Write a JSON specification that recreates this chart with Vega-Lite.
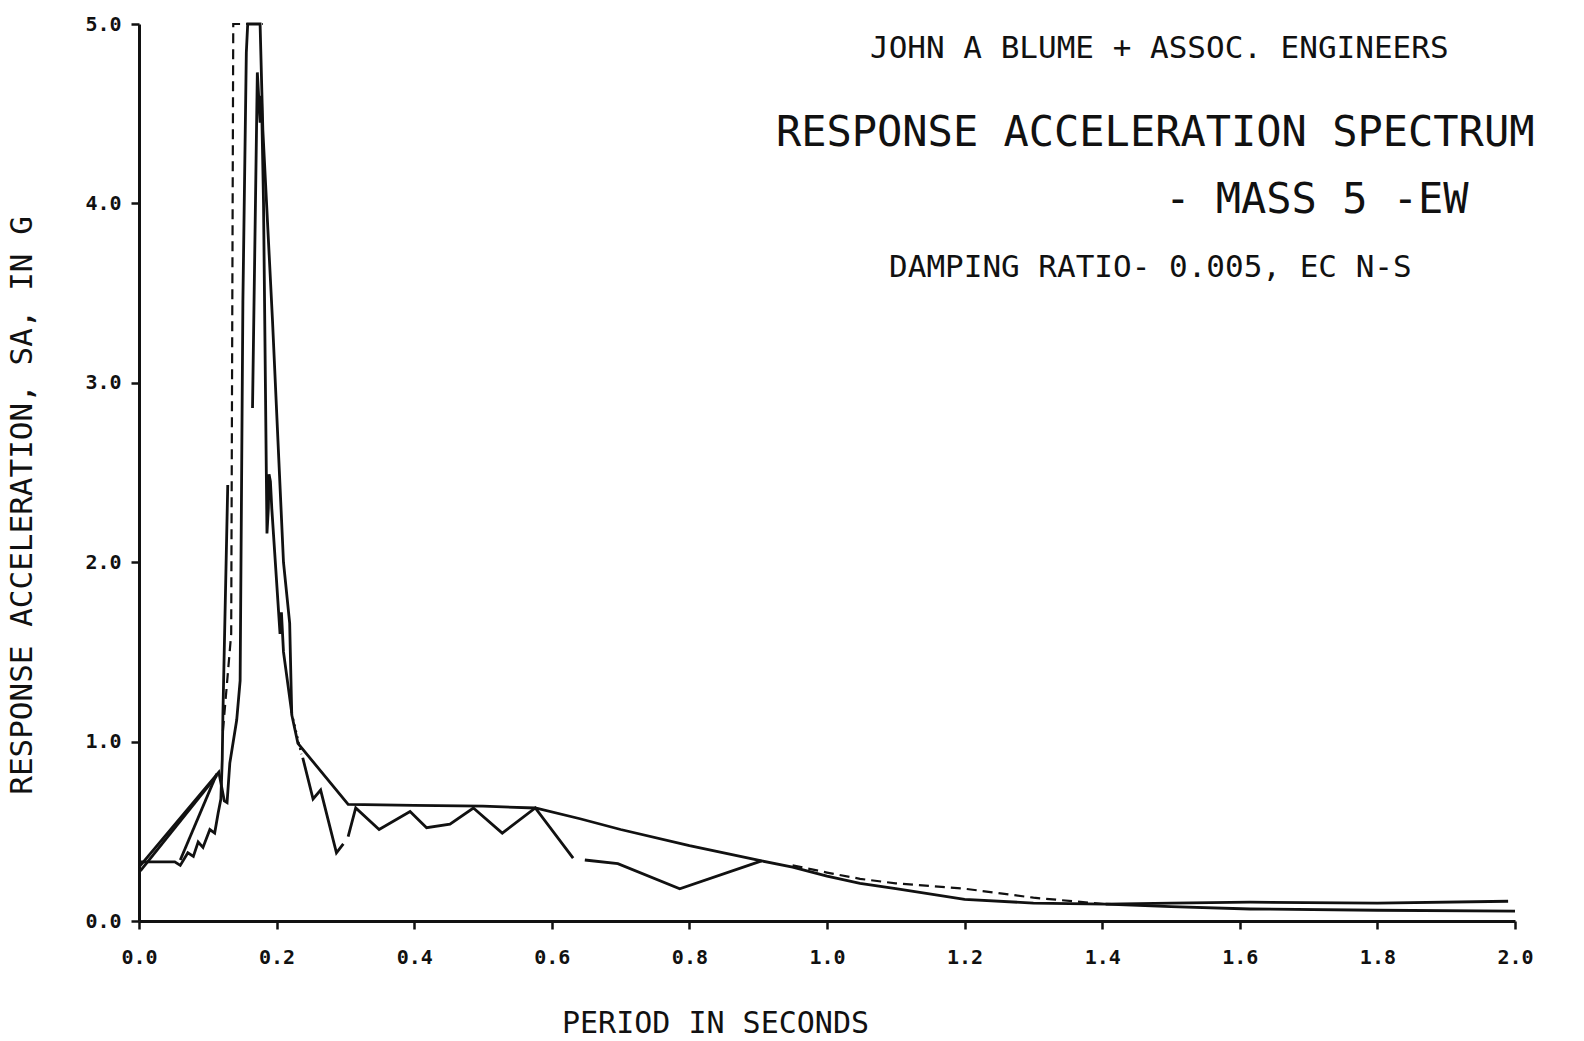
{
  "$schema": "https://vega.github.io/schema/vega-lite/v6.json",
  "width": 1376,
  "height": 897,
  "autosize": {"type": "none"},
  "padding": {"left": 139, "top": 24, "right": 69, "bottom": 120},
  "background": "white",
  "config": {
    "view": {"stroke": null},
    "axis": {
      "grid": false,
      "domainColor": "#111",
      "domainWidth": 3,
      "tickColor": "#111",
      "tickWidth": 2.5,
      "tickSize": 8,
      "labelFont": "DejaVu Sans Mono",
      "labelFontWeight": "bold",
      "labelFontSize": 20,
      "labelColor": "#111",
      "titleFont": "DejaVu Sans Mono",
      "titleFontWeight": "normal",
      "titleColor": "#111"
    }
  },
  "datasets": {
    "curves": [
      {"trace": "env", "period": 0.000, "sa": 0.30},
      {"trace": "env", "period": 0.116, "sa": 0.83},
      {"trace": "env", "period": 0.124, "sa": 0.67},
      {"trace": "env", "period": 0.128, "sa": 0.66},
      {"trace": "env", "period": 0.132, "sa": 0.88},
      {"trace": "env", "period": 0.142, "sa": 1.12},
      {"trace": "env", "period": 0.147, "sa": 1.34},
      {"trace": "env", "period": 0.151, "sa": 3.45},
      {"trace": "env", "period": 0.156, "sa": 4.84},
      {"trace": "env", "period": 0.158, "sa": 5.0},
      {"trace": "env", "period": 0.176, "sa": 5.0},
      {"trace": "env", "period": 0.180, "sa": 4.41},
      {"trace": "env", "period": 0.194, "sa": 3.35},
      {"trace": "env", "period": 0.210, "sa": 2.0},
      {"trace": "env", "period": 0.219, "sa": 1.66},
      {"trace": "env", "period": 0.222, "sa": 1.15},
      {"trace": "env", "period": 0.231, "sa": 0.99},
      {"trace": "env", "period": 0.304, "sa": 0.65},
      {"trace": "env", "period": 0.400, "sa": 0.645},
      {"trace": "env", "period": 0.500, "sa": 0.64},
      {"trace": "env", "period": 0.576, "sa": 0.63},
      {"trace": "env", "period": 0.641, "sa": 0.57},
      {"trace": "env", "period": 0.700, "sa": 0.51},
      {"trace": "env", "period": 0.800, "sa": 0.42},
      {"trace": "env", "period": 0.905, "sa": 0.335},
      {"trace": "env", "period": 0.950, "sa": 0.30},
      {"trace": "env", "period": 1.000, "sa": 0.25},
      {"trace": "env", "period": 1.048, "sa": 0.21},
      {"trace": "env", "period": 1.100, "sa": 0.18},
      {"trace": "env", "period": 1.200, "sa": 0.12},
      {"trace": "env", "period": 1.300, "sa": 0.10},
      {"trace": "env", "period": 1.405, "sa": 0.094},
      {"trace": "env", "period": 1.500, "sa": 0.08},
      {"trace": "env", "period": 1.615, "sa": 0.067},
      {"trace": "env", "period": 1.800, "sa": 0.06},
      {"trace": "env", "period": 2.000, "sa": 0.055},

      {"trace": "tri", "period": 0.002, "sa": 0.28},
      {"trace": "tri", "period": 0.113, "sa": 0.81},

      {"trace": "hatch", "period": 0.060, "sa": 0.34},
      {"trace": "hatch", "period": 0.113, "sa": 0.82},

      {"trace": "b1", "period": 0.000, "sa": 0.33},
      {"trace": "b1", "period": 0.052, "sa": 0.33},
      {"trace": "b1", "period": 0.060, "sa": 0.31},
      {"trace": "b1", "period": 0.071, "sa": 0.38},
      {"trace": "b1", "period": 0.079, "sa": 0.36},
      {"trace": "b1", "period": 0.086, "sa": 0.44},
      {"trace": "b1", "period": 0.093, "sa": 0.41},
      {"trace": "b1", "period": 0.103, "sa": 0.51},
      {"trace": "b1", "period": 0.110, "sa": 0.49},
      {"trace": "b1", "period": 0.115, "sa": 0.60},
      {"trace": "b1", "period": 0.119, "sa": 0.68},
      {"trace": "b1", "period": 0.121, "sa": 0.90},
      {"trace": "b1", "period": 0.122, "sa": 1.16},
      {"trace": "b1", "period": 0.129, "sa": 2.43},

      {"trace": "p2", "period": 0.165, "sa": 2.86},
      {"trace": "p2", "period": 0.172, "sa": 4.73},
      {"trace": "p2", "period": 0.176, "sa": 4.45},
      {"trace": "p2", "period": 0.178, "sa": 4.6},
      {"trace": "p2", "period": 0.181, "sa": 4.0},
      {"trace": "p2", "period": 0.186, "sa": 2.16},
      {"trace": "p2", "period": 0.188, "sa": 2.3},
      {"trace": "p2", "period": 0.189, "sa": 2.49},
      {"trace": "p2", "period": 0.191, "sa": 2.45},
      {"trace": "p2", "period": 0.193, "sa": 2.3},
      {"trace": "p2", "period": 0.205, "sa": 1.6},
      {"trace": "p2", "period": 0.207, "sa": 1.72},
      {"trace": "p2", "period": 0.210, "sa": 1.5},
      {"trace": "p2", "period": 0.222, "sa": 1.16},

      {"trace": "b2", "period": 0.238, "sa": 0.91},
      {"trace": "b2", "period": 0.253, "sa": 0.68},
      {"trace": "b2", "period": 0.264, "sa": 0.73},
      {"trace": "b2", "period": 0.287, "sa": 0.38},
      {"trace": "b2", "period": 0.297, "sa": 0.43},
      {"trace": "b3", "period": 0.304, "sa": 0.47},
      {"trace": "b3", "period": 0.315, "sa": 0.63},
      {"trace": "b3", "period": 0.349, "sa": 0.51},
      {"trace": "b3", "period": 0.394, "sa": 0.61},
      {"trace": "b3", "period": 0.418, "sa": 0.52},
      {"trace": "b3", "period": 0.452, "sa": 0.54},
      {"trace": "b3", "period": 0.486, "sa": 0.63},
      {"trace": "b3", "period": 0.528, "sa": 0.49},
      {"trace": "b3", "period": 0.576, "sa": 0.63},
      {"trace": "b3", "period": 0.631, "sa": 0.35},
      {"trace": "b4", "period": 0.648, "sa": 0.34},
      {"trace": "b4", "period": 0.696, "sa": 0.32},
      {"trace": "b4", "period": 0.786, "sa": 0.18},
      {"trace": "b4", "period": 0.905, "sa": 0.335},

      {"trace": "tailB", "period": 1.405, "sa": 0.094},
      {"trace": "tailB", "period": 1.500, "sa": 0.10},
      {"trace": "tailB", "period": 1.615, "sa": 0.105},
      {"trace": "tailB", "period": 1.800, "sa": 0.10},
      {"trace": "tailB", "period": 1.990, "sa": 0.11},

      {"trace": "pdash", "period": 0.122, "sa": 1.06},
      {"trace": "pdash", "period": 0.134, "sa": 1.6},
      {"trace": "pdash", "period": 0.137, "sa": 5.0},
      {"trace": "pdash", "period": 0.180, "sa": 5.0},

      {"trace": "tailA", "period": 0.950, "sa": 0.31},
      {"trace": "tailA", "period": 1.000, "sa": 0.27},
      {"trace": "tailA", "period": 1.048, "sa": 0.235},
      {"trace": "tailA", "period": 1.100, "sa": 0.21},
      {"trace": "tailA", "period": 1.200, "sa": 0.18},
      {"trace": "tailA", "period": 1.300, "sa": 0.13},
      {"trace": "tailA", "period": 1.405, "sa": 0.094},

      {"trace": "conn", "period": 0.222, "sa": 1.16},
      {"trace": "conn", "period": 0.236, "sa": 0.93}
    ]
  },
  "layer": [
    {
      "data": {"name": "curves"},
      "transform": [{"filter": {"not": {"field": "trace", "oneOf": ["pdash", "tailA", "conn"]}}}],
      "mark": {"type": "line", "color": "#111", "strokeWidth": 2.8},
      "encoding": {
        "x": {
          "field": "period", "type": "quantitative",
          "scale": {"domain": [0, 2], "nice": false, "zero": false},
          "axis": {
            "values": [0, 0.2, 0.4, 0.6, 0.8, 1.0, 1.2, 1.4, 1.6, 1.8, 2.0],
            "format": ".1f",
            "labelFlush": false,
            "labelPadding": 18,
            "title": "PERIOD IN SECONDS",
            "titleFontSize": 30,
            "titleX": 576,
            "titleY": 102,
            "titleAlign": "center",
            "titleBaseline": "middle"
          }
        },
        "y": {
          "field": "sa", "type": "quantitative",
          "scale": {"domain": [0, 5], "nice": false},
          "axis": {
            "values": [0, 1, 2, 3, 4, 5],
            "format": ".1f",
            "labelFlush": false,
            "labelPadding": 10,
            "title": "RESPONSE ACCELERATION, SA, IN G",
            "titleFontSize": 31,
            "titleX": -117,
            "titleY": 481,
            "titleAngle": -90,
            "titleAlign": "center",
            "titleBaseline": "middle"
          }
        },
        "detail": {"field": "trace"}
      }
    },
    {
      "data": {"name": "curves"},
      "transform": [{"filter": {"field": "trace", "oneOf": ["pdash", "tailA"]}}],
      "mark": {"type": "line", "color": "#111", "strokeWidth": 2.2, "strokeDash": [10, 6]},
      "encoding": {
        "x": {"field": "period", "type": "quantitative"},
        "y": {"field": "sa", "type": "quantitative"},
        "detail": {"field": "trace"}
      }
    },
    {
      "data": {"name": "curves"},
      "transform": [{"filter": {"field": "trace", "equal": "conn"}}],
      "mark": {"type": "line", "color": "#111", "strokeWidth": 2.2, "strokeDash": [2, 4]},
      "encoding": {
        "x": {"field": "period", "type": "quantitative"},
        "y": {"field": "sa", "type": "quantitative"},
        "detail": {"field": "trace"}
      }
    },
    {
      "data": {"values": [{"label": "JOHN A BLUME + ASSOC. ENGINEERS"}]},
      "mark": {"type": "text", "font": "DejaVu Sans Mono", "fontSize": 31, "color": "#111", "align": "center", "baseline": "middle"},
      "encoding": {"x": {"datum": 1.483, "type": "quantitative"}, "y": {"datum": 4.86, "type": "quantitative"}, "text": {"field": "label"}}
    },
    {
      "data": {"values": [{"label": "RESPONSE ACCELERATION SPECTRUM"}]},
      "mark": {"type": "text", "font": "DejaVu Sans Mono", "fontSize": 42, "color": "#111", "align": "center", "baseline": "middle"},
      "encoding": {"x": {"datum": 1.477, "type": "quantitative"}, "y": {"datum": 4.39, "type": "quantitative"}, "text": {"field": "label"}}
    },
    {
      "data": {"values": [{"label": "- MASS 5 -EW"}]},
      "mark": {"type": "text", "font": "DejaVu Sans Mono", "fontSize": 42, "color": "#111", "align": "center", "baseline": "middle"},
      "encoding": {"x": {"datum": 1.712, "type": "quantitative"}, "y": {"datum": 4.02, "type": "quantitative"}, "text": {"field": "label"}}
    },
    {
      "data": {"values": [{"label": "DAMPING RATIO- 0.005, EC N-S"}]},
      "mark": {"type": "text", "font": "DejaVu Sans Mono", "fontSize": 31, "color": "#111", "align": "center", "baseline": "middle"},
      "encoding": {"x": {"datum": 1.47, "type": "quantitative"}, "y": {"datum": 3.64, "type": "quantitative"}, "text": {"field": "label"}}
    }
  ]
}
